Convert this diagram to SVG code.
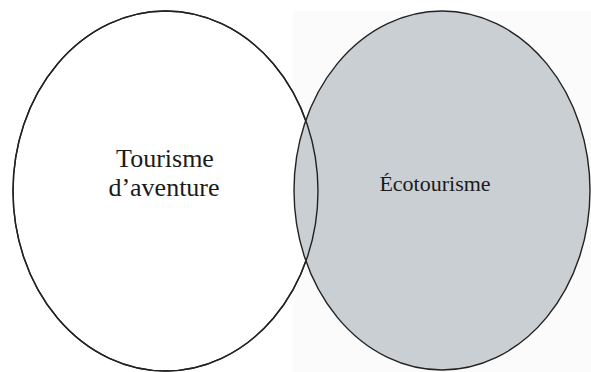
<svg xmlns="http://www.w3.org/2000/svg" width="591" height="372" viewBox="0 0 591 372">
<style>
.outline{fill:none;stroke:#222;stroke-width:1.4}
.lbl{font-family:"Liberation Serif","Times New Roman",serif;font-size:26px;fill:#1a1a1a;text-anchor:middle}
</style>
<rect width="591" height="372" fill="#ffffff"/>
<rect x="293" y="11" width="298" height="361" fill="#fbfbfb"/>
<g id="aventure">
<ellipse cx="165.5" cy="191" rx="152.5" ry="180" fill="#ffffff" stroke="#222" stroke-width="1.4"/>
</g>
<g id="ecotourisme">
<ellipse cx="442" cy="190.5" rx="148" ry="179.5" fill="#cacfd4" stroke="#222" stroke-width="1.4"/>
</g>
<g id="connectors">
<ellipse class="outline" cx="165.5" cy="191" rx="152.5" ry="180"/>
</g>
<g id="labels">
<text class="lbl" x="165" y="167">Tourisme</text>
<text class="lbl" x="164" y="196">d’aventure</text>
<text class="lbl" x="435" y="191" style="font-size:22px">Écotourisme</text>
</g>
</svg>
